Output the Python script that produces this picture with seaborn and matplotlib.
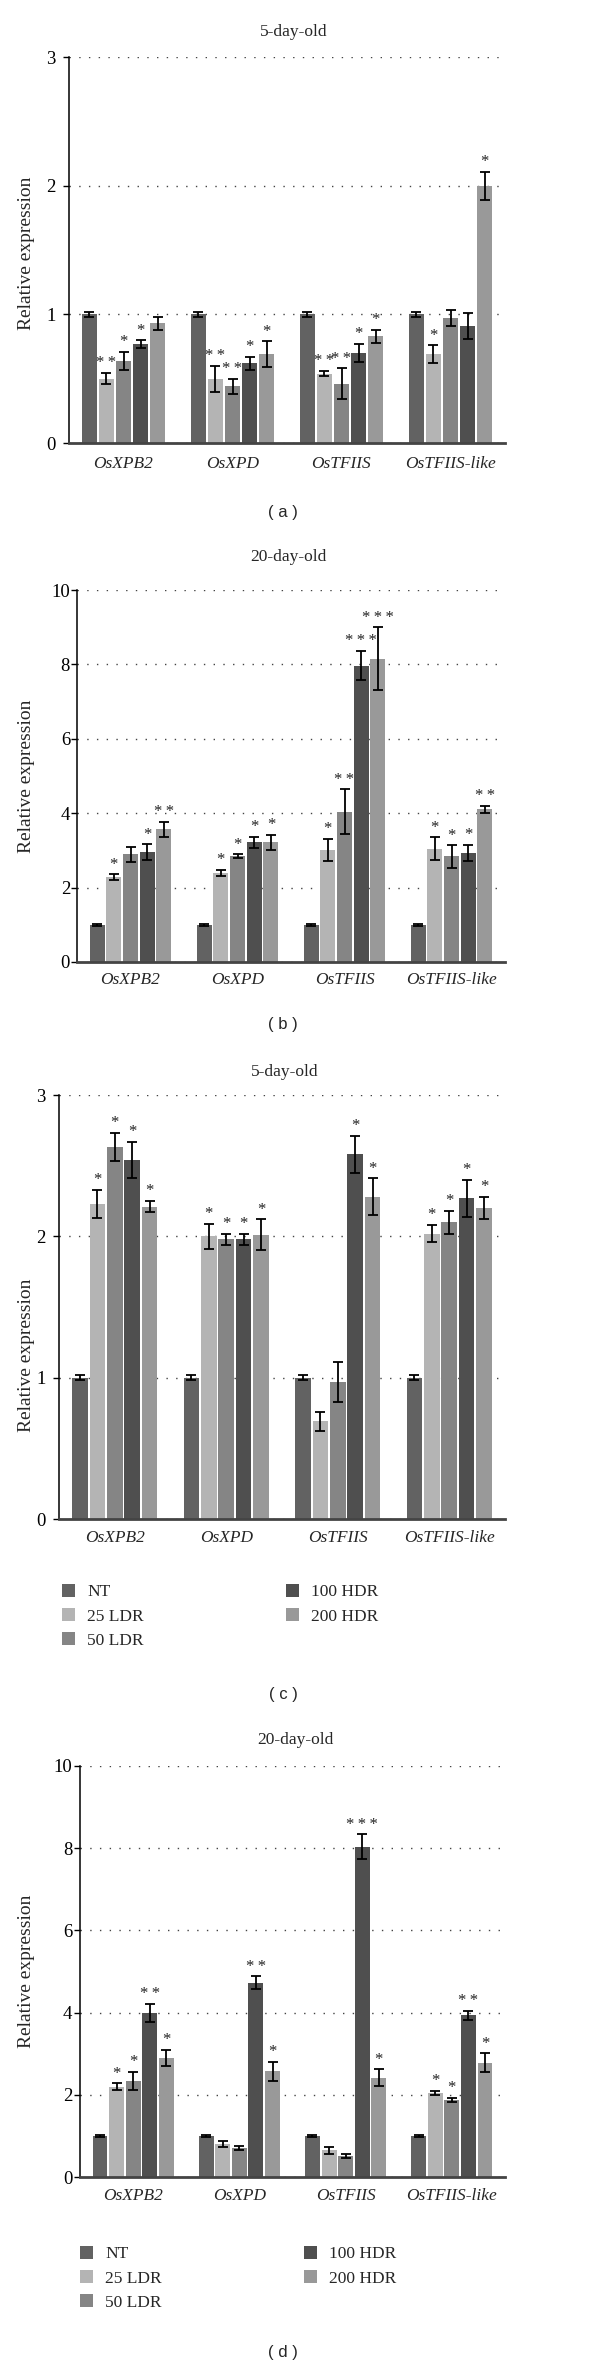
import numpy as np
import pandas as pd
import matplotlib
matplotlib.use("Agg")
import matplotlib.pyplot as plt
import seaborn as sns

genes = ["OsXPB2", "OsXPD", "OsTFIIS", "OsTFIIS-like"]
treatments = ["NT", "25 LDR", "50 LDR", "100 HDR", "200 HDR"]
colors = ["#626262", "#b4b4b4", "#858585", "#4f4f4f", "#999999"]

# (a) 5-day-old, rows = genes, cols = treatments
a_vals = [[1.00, 0.50, 0.64, 0.77, 0.93],
          [1.00, 0.50, 0.44, 0.62, 0.69],
          [1.00, 0.54, 0.46, 0.70, 0.83],
          [1.00, 0.69, 0.97, 0.91, 2.00]]
a_err = [[0.02, 0.045, 0.07, 0.03, 0.05],
         [0.02, 0.10, 0.06, 0.05, 0.10],
         [0.02, 0.02, 0.12, 0.07, 0.05],
         [0.02, 0.07, 0.06, 0.10, 0.11]]
a_sig = [["", "**", "*", "*", ""],
         ["", "**", "**", "*", "*"],
         ["", "**", "**", "*", "*"],
         ["", "*", "", "", "*"]]

# (b) 20-day-old
b_vals = [[1.00, 2.28, 2.90, 2.95, 3.57],
          [1.00, 2.40, 2.85, 3.22, 3.22],
          [1.00, 3.01, 4.04, 7.97, 8.15],
          [1.00, 3.05, 2.84, 2.93, 4.10]]
b_err = [[0.03, 0.08, 0.20, 0.22, 0.20],
         [0.03, 0.08, 0.05, 0.15, 0.20],
         [0.03, 0.30, 0.60, 0.40, 0.85],
         [0.03, 0.30, 0.30, 0.22, 0.10]]
b_sig = [["", "*", "", "*", "**"],
         ["", "*", "*", "*", "*"],
         ["", "*", "**", "***", "***"],
         ["", "*", "*", "*", "**"]]

# (c) 5-day-old
c_vals = [[1.00, 2.23, 2.63, 2.54, 2.21],
          [1.00, 2.00, 1.98, 1.98, 2.01],
          [1.00, 0.69, 0.97, 2.58, 2.28],
          [1.00, 2.02, 2.10, 2.27, 2.20]]
c_err = [[0.02, 0.10, 0.10, 0.13, 0.04],
         [0.02, 0.09, 0.04, 0.04, 0.11],
         [0.02, 0.07, 0.14, 0.13, 0.13],
         [0.02, 0.06, 0.08, 0.13, 0.08]]
c_sig = [["", "*", "*", "*", "*"],
         ["", "*", "*", "*", "*"],
         ["", "", "", "*", "*"],
         ["", "*", "*", "*", "*"]]

# (d) 20-day-old
d_vals = [[1.00, 2.20, 2.34, 4.00, 2.90],
          [1.00, 0.80, 0.71, 4.73, 2.57],
          [1.00, 0.65, 0.51, 8.04, 2.42],
          [1.00, 2.04, 1.88, 3.93, 2.78]]
d_err = [[0.02, 0.08, 0.22, 0.22, 0.20],
         [0.02, 0.08, 0.05, 0.15, 0.23],
         [0.02, 0.08, 0.05, 0.30, 0.20],
         [0.02, 0.05, 0.05, 0.12, 0.23]]
d_sig = [["", "*", "*", "**", "*"],
         ["", "", "", "**", "*"],
         ["", "", "", "***", "*"],
         ["", "*", "*", "**", "*"]]

W, H = 600, 2370
serif = ["Liberation Serif", "DejaVu Serif"]
sns.set_style("white")
plt.rcParams["font.family"] = serif

fig = plt.figure(figsize=(W / 100, H / 100), dpi=100)


def make_df(vals):
    rows = []
    for gi, g in enumerate(genes):
        for ti, t in enumerate(treatments):
            rows.append({"gene": g, "treatment": t, "value": vals[gi][ti]})
    return pd.DataFrame(rows)


def panel(vals, errs, sigs, box, ymax, ystep, title, title_x, title_y,
          ylab_y, tag, tag_y, ypad, xpad, legend_pos=None):
    left, top, right, bottom = box
    ax = fig.add_axes([left / W, 1 - bottom / H, (right - left) / W, (bottom - top) / H])
    df = make_df(vals)
    sns.barplot(data=df, x="gene", y="value", hue="treatment", order=genes,
                hue_order=treatments, palette=colors, saturation=1,
                width=0.78, gap=0.1, errorbar=None, linewidth=0,
                legend=legend_pos is not None, ax=ax)
    # error bars and stars on top of the seaborn bars
    bar_conts = list(ax.containers)
    for ti, cont in enumerate(bar_conts):
        for gi, p in enumerate(cont.patches):
            xc = p.get_x() + p.get_width() / 2
            h = p.get_height()
            e = errs[gi][ti]
            ax.errorbar(xc, h, yerr=e, fmt="none", ecolor="black",
                        elinewidth=1.3, capsize=3.8, capthick=1.3, zorder=4)
            s = sigs[gi][ti]
            if s:
                ax.text(xc, h + e + ymax * 0.004, "\u2009".join(s),
                        ha="center", va="bottom", fontsize=12, color="#222")
    ax.set_ylim(0, ymax)
    ax.set_xlim(-0.5, 3.5)
    ax.set_yticks(np.arange(0, ymax + 0.01, ystep))
    ax.set_yticklabels([str(int(v)) for v in np.arange(0, ymax + 0.01, ystep)])
    ax.yaxis.grid(True, linestyle=(0, (1, 6)), color="#444", linewidth=1.0)
    ax.xaxis.grid(False)
    ax.set_axisbelow(True)
    for sp in ["top", "right"]:
        ax.spines[sp].set_visible(False)
    ax.spines["left"].set_color("black")
    ax.spines["left"].set_linewidth(1.1)
    ax.spines["bottom"].set_color("#444")
    ax.spines["bottom"].set_linewidth(2)
    ax.tick_params(axis="y", left=True, length=4, width=1, pad=ypad,
                   labelsize=13.5, colors="black")
    ax.tick_params(axis="x", bottom=False, length=0, pad=xpad, labelsize=12.5)
    for lab in ax.get_xticklabels():
        lab.set_fontstyle("italic")
    ax.set_xlabel("")
    ax.set_ylabel("")
    fig.text(27 / W, 1 - ylab_y / H, "Relative expression", rotation=90,
             ha="center", va="center", fontsize=14)
    fig.text(title_x / W, 1 - title_y / H, title, ha="center", va="center",
             fontsize=12.5)
    fig.text(283 / W, 1 - tag_y / H, tag, ha="center", va="center",
             fontsize=12, family=["Liberation Sans", "DejaVu Sans"])
    if legend_pos is not None:
        lx, ly = legend_pos
        sns.move_legend(ax, "upper left", bbox_to_anchor=(lx / W, 1 - ly / H),
                        bbox_transform=fig.transFigure, ncol=2, frameon=False,
                        title=None, fontsize=12.5, handlelength=0.75,
                        handleheight=0.75, handletextpad=0.7,
                        labelspacing=0.45, columnspacing=8.2,
                        borderpad=0, borderaxespad=0)
    return ax


panel(a_vals, a_err, a_sig, (69, 57, 505, 443), 3, 1, "5-day-old", 294, 32,
      253, "( a )", 512, 5.5, 9)
panel(b_vals, b_err, b_sig, (77, 590, 505, 962), 10, 2, "20-day-old", 288, 557,
      776, "( b )", 1025, 1, 7)
panel(c_vals, c_err, c_sig, (59, 1095, 505, 1519), 3, 1, "5-day-old", 285, 1072,
      1355, "( c )", 1695, 5.5, 8, legend_pos=(62, 1584))
panel(d_vals, d_err, d_sig, (80, 1766, 505, 2177), 10, 2, "20-day-old", 295, 1740,
      1971, "( d )", 2353, 1.5, 8, legend_pos=(80, 2246))

fig.savefig("out.png", dpi=100)
